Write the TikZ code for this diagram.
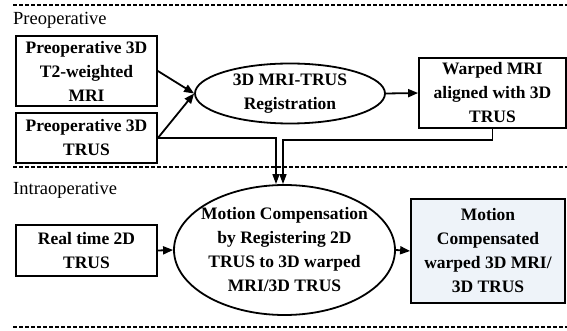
\documentclass[tikz,border=0pt]{standalone}
\usepackage{fontspec}
\setmainfont{Liberation Serif}
\usetikzlibrary{shapes.geometric,arrows.meta}
\definecolor{boxfill}{RGB}{238,243,249}
\begin{document}
\begin{tikzpicture}[x=1pt,y=-1pt,
  box/.style={draw,line width=1.8pt,rectangle,inner sep=0pt,align=center,font=\fontsize{17.5}{24}\selectfont\bfseries},
  ell/.style={draw,line width=1.8pt,ellipse,inner sep=0pt},
  txt/.style={inner sep=0pt,align=center,font=\fontsize{17.5}{24}\selectfont\bfseries},
  lab/.style={inner sep=0pt,anchor=west,font=\fontsize{18.5}{24}\selectfont},
  sep/.style={line width=1.8pt,dash pattern=on 4pt off 2pt},
  arr/.style={line width=1.8pt,-{Triangle[length=10pt,width=8pt]}},
  arrthin/.style={line width=1.4pt,-{Triangle[length=10pt,width=7pt]}}]
\useasboundingbox (0,0) rectangle (567,331);
% separators
\coordinate (s1a) at (13,5);   \coordinate (s1b) at (567,5);
\coordinate (s2a) at (13,167); \coordinate (s2b) at (567,167);
\coordinate (s3a) at (13,327); \coordinate (s3b) at (567,327);
\draw[sep] (s1a) -- (s1b);
\draw[sep] (s2a) -- (s2b);
\draw[sep] (s3a) -- (s3b);
% labels
\node[lab] (lpre) at (13,20) {Preoperative};
\node[lab] (lintra) at (13,190) {Intraoperative};
% nodes
\node[box,minimum width=141pt,minimum height=70pt] (b1) at (86.5,71) {Preoperative 3D\\T2-weighted\\MRI};
\node[box,minimum width=141pt,minimum height=50pt] (b2) at (86.5,138) {Preoperative 3D\\TRUS};
\node[ell,minimum width=190pt,minimum height=60pt] (e1) at (290,93.5) {};
\node[txt] (e1t) at (290,93.5) {3D MRI-TRUS\\Registration};
\node[box,minimum width=147pt,minimum height=70pt] (b3) at (492.5,93) {Warped MRI\\aligned with 3D\\TRUS};
\node[box,minimum width=141pt,minimum height=51pt] (b4) at (86.5,250.5) {Real time 2D\\TRUS};
\node[ell,minimum width=221pt,minimum height=130pt] (e2) at (284.5,250) {};
\node[txt] (e2t) at (284.5,250) {Motion Compensation\\by Registering 2D\\TRUS to 3D warped\\MRI/3D TRUS};
\node[box,fill=boxfill,minimum width=154pt,minimum height=104pt] (b5) at (488,251) {Motion\\Compensated\\warped 3D MRI/\\3D TRUS};
% connectors
\draw[arr] (b1.east) -- (e1.west);
\draw[arr] (b2.east) -- (e1.west);
\draw[arr] (e1.east) -- (b3.west);
\draw[arrthin] (b2.east) -| ([xshift=-8.5pt]e2.north);
\draw[arrthin] (b3.south) -- ++(0,11) -| ([xshift=-1.5pt]e2.north);
\draw[arr] (b4.east) -- (e2.west);
\draw[arr] (e2.east) -- (b5.west);
\end{tikzpicture}
\end{document}
